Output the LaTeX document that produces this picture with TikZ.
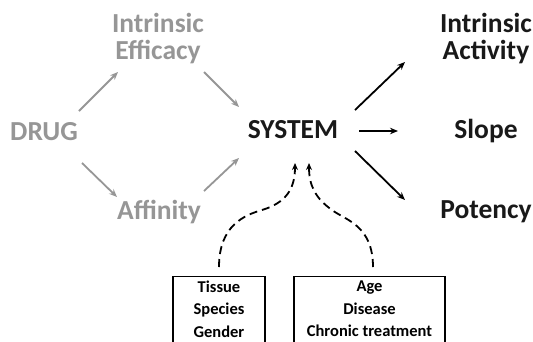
\documentclass[tikz,border=0pt]{standalone}
\usepackage{fontspec}
\setmainfont{Carlito}
\usetikzlibrary{arrows.meta}
\definecolor{lgray}{RGB}{150,150,150}
\tikzset{
  big/.style={font=\bfseries\fontsize{27.5}{27}\selectfont, align=center, inner sep=0pt},
  gtext/.style={big, text=lgray},
  btext/.style={big, text=black!90},
  small/.style={font=\bfseries\fontsize{16.5}{22.5}\selectfont, align=center, inner sep=0pt},
  garrow/.style={draw=lgray, line width=1.8pt, -{Stealth[length=8pt,width=6.5pt]}},
  barrow/.style={draw=black, line width=1.8pt, -{Stealth[length=8pt,width=6.5pt]}},
  darrow/.style={draw=black, line width=1.8pt, dash pattern=on 8pt off 5pt, -{Stealth[length=7pt,width=6pt]}},
  framebox/.style={draw=black, line width=1.4pt, inner sep=0pt}
}
\begin{document}
\begin{tikzpicture}[x=1pt,y=-1pt]
\clip (0,0) rectangle (533,341);
\useasboundingbox (0,0) rectangle (533,341);
% nodes
\node[gtext] (drug) at (44,132) {DRUG};
\node[gtext] (eff) at (158,39) {Intrinsic\\Efficacy};
\node[gtext] (aff) at (159,212) {Affinity};
\node[btext] (sys) at (293,130) {SYSTEM};
\node[btext] (ia) at (486,39) {Intrinsic\\Activity};
\node[btext] (slope) at (486,131) {Slope};
\node[btext] (pot) at (486,212) {Potency};
% boxes
\node[framebox, minimum width=92pt, minimum height=80pt, anchor=north] (lbox) at (219,276) {};
\node[framebox, minimum width=151pt, minimum height=80pt, anchor=north] (rbox) at (369.5,276) {};
\node[small] (ltext) at (219,309) {Tissue\\Species\\Gender};
\node[small] (rtext) at (369.5,309) {Age\\Disease\\Chronic treatment};
% gray arrows
\draw[garrow] ([shift={(35,-21)}]drug.center) -- ([shift={(-40,33)}]eff.center);
\draw[garrow] ([shift={(46,33)}]eff.center) -- ([shift={(-54,-23)}]sys.center);
\draw[garrow] ([shift={(38,31)}]drug.center) -- ([shift={(-42,-15)}]aff.center);
\draw[garrow] ([shift={(45,-21)}]aff.center) -- ([shift={(-54,28)}]sys.center);
% black arrows
\draw[barrow] ([shift={(62,-20)}]sys.center) -- ([shift={(-81,23)}]ia.center);
\draw[barrow] ([shift={(66,1)}]sys.center) -- ([shift={(-88,0)}]slope.center);
\draw[barrow] ([shift={(62,21)}]sys.center) -- ([shift={(-81,-12)}]pot.center);
% dashed arrows
\draw[darrow] ([shift={(0,-9)}]lbox.north) .. controls +(0,-42) and +(-17,5) .. ([shift={(-31,80)}]sys.center) .. controls +(23,-7) and +(0,27) .. ([shift={(2,33)}]sys.center);
\draw[darrow] ([shift={(3.5,-9)}]rbox.north) .. controls +(0,-42) and +(13,10) .. ([shift={(39,80)}]sys.center) .. controls +(-17,-12) and +(0,22) .. ([shift={(16,33)}]sys.center);
\end{tikzpicture}
\end{document}
